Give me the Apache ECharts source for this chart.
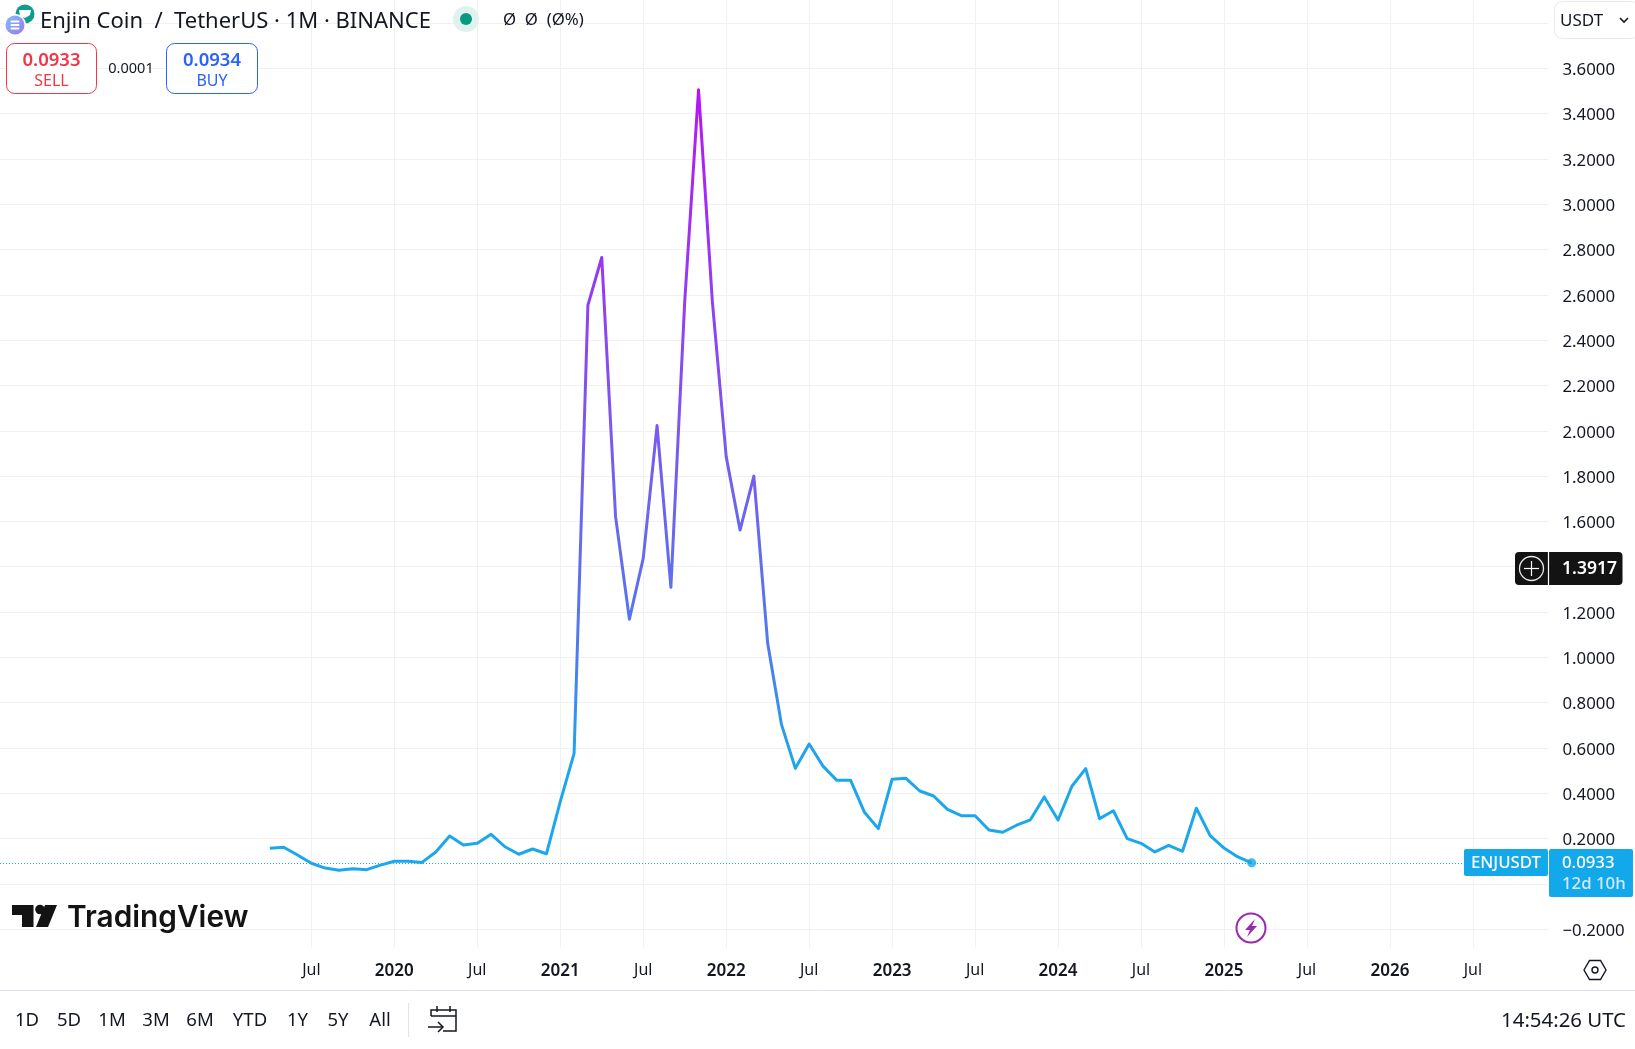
<!DOCTYPE html>
<html>
<head>
<meta charset="utf-8">
<style>html,body{margin:0;padding:0;background:#fff}#c{width:1635px;height:1049px}</style>
<script src="https://cdn.jsdelivr.net/npm/echarts@6/dist/echarts.min.js"></script>
</head>
<body>
<div id="c"></div>
<script>
// Monthly closes from Apr 2019 (month index 0) to Mar 2025
const months = ['2019-04','2019-05','2019-06','2019-07','2019-08','2019-09','2019-10','2019-11','2019-12',
 '2020-01','2020-02','2020-03','2020-04','2020-05','2020-06','2020-07','2020-08','2020-09','2020-10','2020-11','2020-12',
 '2021-01','2021-02','2021-03','2021-04','2021-05','2021-06','2021-07','2021-08','2021-09','2021-10','2021-11','2021-12',
 '2022-01','2022-02','2022-03','2022-04','2022-05','2022-06','2022-07','2022-08','2022-09','2022-10','2022-11','2022-12',
 '2023-01','2023-02','2023-03','2023-04','2023-05','2023-06','2023-07','2023-08','2023-09','2023-10','2023-11','2023-12',
 '2024-01','2024-02','2024-03','2024-04','2024-05','2024-06','2024-07','2024-08','2024-09','2024-10','2024-11','2024-12',
 '2025-01','2025-02','2025-03'];
const closes = [0.157,0.1615,0.1275,0.091,0.070,0.060,0.067,0.063,0.083,
 0.0997,0.0997,0.095,0.141,0.211,0.172,0.179,0.219,0.164,0.131,0.154,0.133,
 0.363,0.576,2.555,2.765,1.621,1.168,1.437,2.023,1.309,2.57,3.505,2.57,
 1.886,1.562,1.80,1.062,0.703,0.51,0.6175,0.52,0.457,0.457,0.316,0.244,
 0.462,0.466,0.41,0.388,0.329,0.301,0.301,0.238,0.228,0.259,0.283,0.384,
 0.282,0.431,0.509,0.288,0.323,0.2,0.179,0.141,0.17,0.144,0.334,0.213,
 0.158,0.119,0.0933];
const xTickMonths = [3,9,15,21,27,33,39,45,51,57,63,69,75,81,87];
const xTickLabels = ['Jul','2020','Jul','2021','Jul','2022','Jul','2023','Jul','2024','Jul','2025','Jul','2026','Jul'];
const yGridValues = [-0.2,0,0.2,0.4,0.6,0.8,1,1.2,1.4,1.6,1.8,2,2.2,2.4,2.6,2.8,3,3.2,3.4,3.6,3.8];
const yLabelValues = [-0.2,0.2,0.4,0.6,0.8,1,1.2,1.6,1.8,2,2.2,2.4,2.6,2.8,3,3.2,3.4,3.6];
const lastPrice = 0.0933;
const crosshairPrice = '1.3917';
const rangeButtons = ['1D','5D','1M','3M','6M','YTD','1Y','5Y','All'];

const FONT = '"Noto Sans", sans-serif';
const INK = '#131722';
const BLUE = '#12A8E9';
const t = (text, x, y, size, fill, opt) => Object.assign({
  type:'text', z:50, silent:true,
  style:{text, x, y, fill, font:(opt&&opt.weight||'400')+' '+size+'px '+(opt&&opt.family||FONT),
    textAlign:(opt&&opt.align)||'center', textVerticalAlign:'middle'}
});
const rect = (x,y,w,h,r,fill,stroke,z) => ({type:'rect',z:z||40,silent:true,shape:{x,y,width:w,height:h,r},
  style:{fill:fill||'none',stroke:stroke||'none',lineWidth:stroke?1:0}});
const line = (x1,y1,x2,y2,c,w) => ({type:'line',z:45,silent:true,shape:{x1,y1,x2,y2},style:{stroke:c,lineWidth:w||1}});
const poly = (points,fill,z) => ({type:'polygon',z:z||45,silent:true,shape:{points},style:{fill}});
const pline = (points,c,w) => ({type:'polyline',z:45,silent:true,shape:{points},style:{stroke:c,lineWidth:w||1.5,fill:'none'}});
const circ = (cx,cy,r,fill,stroke,w,z) => ({type:'circle',z:z||45,silent:true,shape:{cx,cy,r},style:{fill:fill||'none',stroke:stroke||'none',lineWidth:w||0}});

const rangeX = [27,69,112,156,200,250,297.5,338,380];
const graphics = [
  // header
  circ(25,14,9.5,'#0F9C8E'),
  poly([[19,10],[31,10],[30,15],[25,18],[20,16]],'#fff',46),
  circ(15,25,11,'#fff',null,0,47),
  {type:'circle',z:48,silent:true,shape:{cx:15,cy:25,r:9.5},style:{fill:{type:'linear',x:0,y:0,x2:1,y2:1,colorStops:[{offset:0,color:'#7FC0F5'},{offset:1,color:'#9A78F0'}]}}},
  rect(10.5,20.5,9,2,1,'#fff',null,49),
  rect(10.5,24,9,2,1,'#fff',null,49),
  rect(10.5,27.5,9,2,1,'#fff',null,49),
  t('Enjin Coin  /  TetherUS · 1M · BINANCE',40,21.5,22,INK,{align:'left'}),
  circ(466,19,13,'#DFF2EE'),
  circ(466,19,6,'#089981',null,0,46),
  t('Ø  Ø  (Ø%)',503,20,16.8,INK,{align:'left'}),
  rect(6.5,43.5,90,50,8,'#fff','#F23645'),
  t('0.0933',51.5,60.5,18.5,'#F23645',{weight:'600'}),
  t('SELL',51.5,81,16,'#F23645'),
  t('0.0001',131,68.5,14.5,INK),
  rect(166.5,43.5,91,50,8,'#fff','#2962FF'),
  t('0.0934',212,60.5,18.5,'#2962FF',{weight:'600'}),
  t('BUY',212,81,16,'#2962FF'),
  // currency box
  rect(1554.5,1.5,85,37,8,'#fff','#E6E8EE'),
  t('USDT',1560,21,17,INK,{align:'left'}),
  pline([[1620,18],[1624,22],[1628,18]],INK,1.6),
  // crosshair tag
  rect(1515,552,107.5,33,4,'#131313'),
  line(1548.5,552,1548.5,585,'#fff',1.2),
  circ(1531.5,568.5,12,'none','#E8E8E8',1.3),
  line(1524,568.5,1539,568.5,'#fff',1.2),
  line(1531.5,561,1531.5,576,'#fff',1.2),
  t(crosshairPrice,1589.5,569.5,17.5,'#fff',{weight:'600'}),
  // last-price tags
  rect(1464,849,84,27,2,BLUE),
  t('ENJUSDT',1506,863.5,16.8,'#fff',{weight:'500'}),
  rect(1549,849,84,48,2,BLUE),
  t(lastPrice.toFixed(4),1562,863.5,16.8,'#fff',{align:'left',weight:'500'}),
  t('12d 10h',1562,884.5,16.8,'#CFEBFA',{align:'left',weight:'500'}),
  // lightning badge
  circ(1251,928,14.5,'#fff','#9C27B0',2),
  poly([[1255,919],[1245,930],[1250,930],[1247,937],[1257,926],[1252,926]],'#9C27B0',46),
  // logo
  poly([[12,905],[33.5,905],[33.5,927],[22,927],[22,915],[12,915]],'#131313'),
  circ(40,909.5,4.8,'#131313'),
  poly([[45,905],[57,905],[48,927],[36,927]],'#131313'),
  t('TradingView',67,918,29.8,'#131313',{align:'left',weight:'600',family:'Inter, sans-serif'}),
  // settings icon
  {type:'polygon',z:45,silent:true,shape:{points:[[1584,970],[1589.5,960.5],[1600.5,960.5],[1606,970],[1600.5,979.5],[1589.5,979.5]]},style:{fill:'none',stroke:INK,lineWidth:1.4}},
  circ(1595,970,3,'none',INK,1.4),
  // footer
  line(0,990.5,1635,990.5,'#E0E3EB',1),
  line(408.5,1003,408.5,1037,'#E0E3EB',1),
  pline([[431,1016],[431,1010],[456,1010],[456,1031],[443,1031]],INK,1.5),
  line(431,1016,456,1016,INK,1.5),
  line(437,1006,437,1012,INK,1.5),
  line(450,1006,450,1012,INK,1.5),
  line(428,1027,443,1027,INK,1.5),
  pline([[438,1022],[443,1027],[438,1032]],INK,1.5),
  t('14:54:26 UTC',1626,1021,20.4,INK,{align:'right'})
];
rangeButtons.forEach((b,i)=>graphics.push(t(b,rangeX[i],1021,18.5,INK)));

const option = {
  animation:false,
  backgroundColor:'#fff',
  grid:{left:0,right:87,top:0,bottom:101.3},
  xAxis:{
    type:'value', min:-19.516, max:92.43,
    axisLine:{show:false},
    axisTick:{show:false,customValues:xTickMonths},
    splitLine:{show:true,lineStyle:{color:'#F0F1F3',width:1}},
    axisLabel:{
      customValues:xTickMonths, margin:15, fontFamily:FONT, fontSize:16, color:INK,
      formatter:v=>{
        const s = xTickLabels[xTickMonths.indexOf(v)];
        return s==='Jul' ? s : '{y|'+s+'}';
      },
      rich:{y:{fontFamily:FONT,fontSize:17,fontWeight:600,color:INK}}
    }
  },
  yAxis:{
    type:'value', position:'right', min:-0.2816, max:3.9015, scale:true,
    axisLine:{show:false},
    axisTick:{show:false,customValues:yGridValues},
    splitLine:{show:true,lineStyle:{color:'#F0F1F3',width:1}},
    axisLabel:{
      customValues:yLabelValues, margin:14.5, color:INK, align:'left',
      formatter:v=>'{n|'+(v<0?'\u2212':'')+Math.abs(v).toFixed(4)+'}',
      rich:{n:{fontFamily:FONT,fontSize:16.8,color:INK,padding:[4,0,0,0]}}
    }
  },
  series:[
    {
      type:'line', name:'ENJUSDT', showSymbol:false, symbol:'none', z:10,
      data:closes.map((v,i)=>[i,v]),
      lineStyle:{width:3,join:'round',cap:'butt',color:{type:'linear',x:0,y:0,x2:0,y2:1,colorStops:[
        {offset:0,color:'#B714F6'},{offset:0.45,color:'#7A5AEF'},{offset:0.72,color:'#4F7BEE'},{offset:0.86,color:'#1CA7EC'},{offset:1,color:'#1CA7EC'}]}},
      markLine:{silent:true,symbol:'none',label:{show:false},animation:false,z:5,
        lineStyle:{color:BLUE,type:[1,2],width:1},
        data:[{yAxis:lastPrice}]}
    },
    {
      type:'scatter', symbol:'circle', symbolSize:9, z:11, silent:true,
      itemStyle:{color:BLUE},
      data:[[months.length-1,lastPrice]]
    }
  ],
  graphic:{elements:graphics}
};
echarts.init(document.getElementById('c'),null,{renderer:'canvas'}).setOption(option);
</script>
</body>
</html>
